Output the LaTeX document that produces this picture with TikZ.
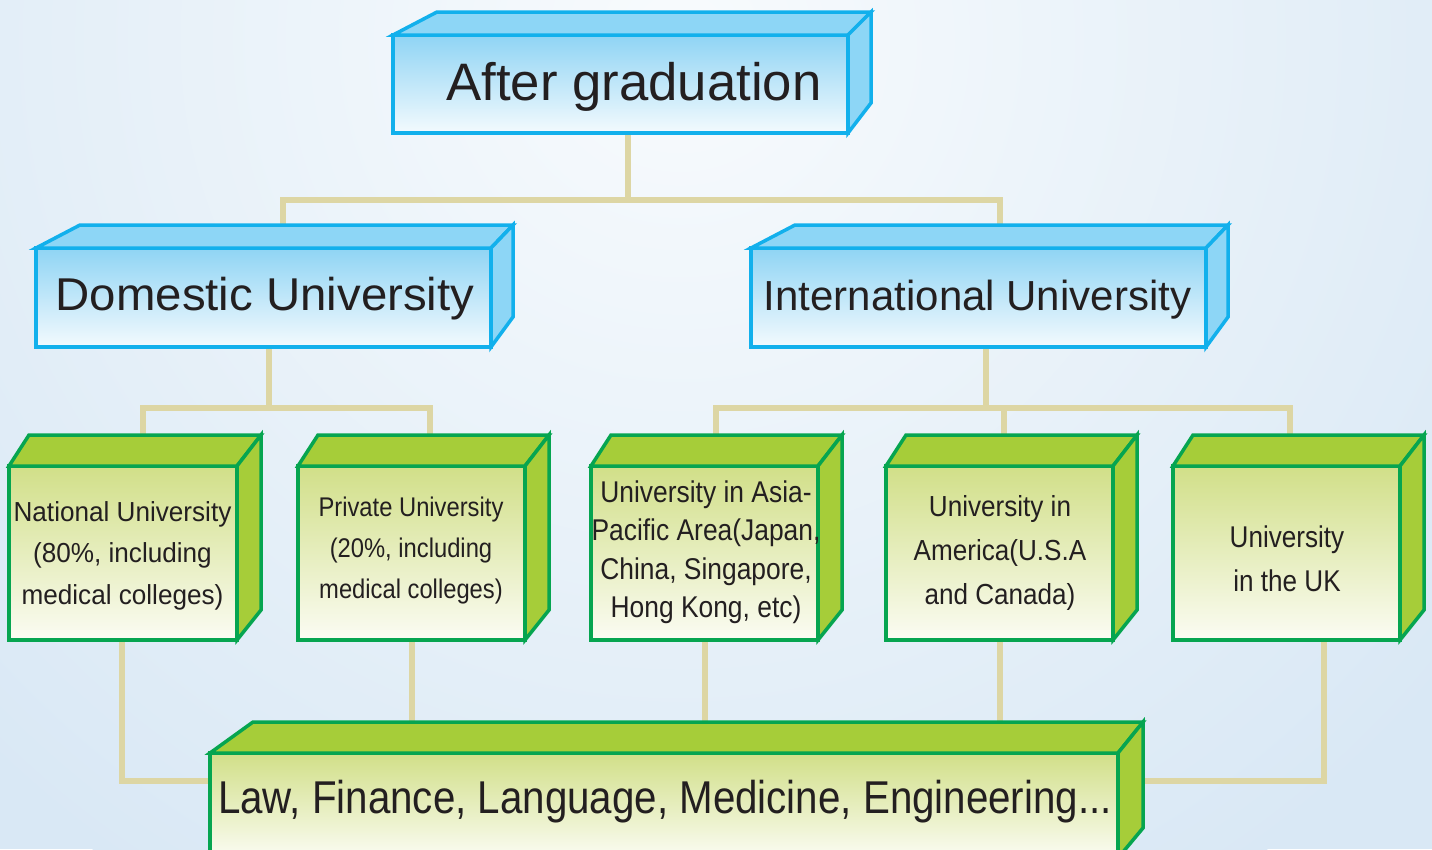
\documentclass[tikz,border=0pt]{standalone}
\usepackage{fontspec}
\setmainfont{Liberation Sans}
\usepackage{graphicx}
\definecolor{bgA}{HTML}{F8FBFD}
\definecolor{bgB}{HTML}{D9E8F5}
\definecolor{bline}{HTML}{12B0EC}
\definecolor{bface}{HTML}{8DD6F6}
\definecolor{bfrontA}{HTML}{8FD4F4}
\definecolor{bfrontB}{HTML}{F3FAFE}
\definecolor{gline}{HTML}{06A550}
\definecolor{gface}{HTML}{A6CD39}
\definecolor{gfrontA}{HTML}{D1DF88}
\definecolor{gfrontB}{HTML}{FBFCF3}
\definecolor{conncol}{HTML}{DDD6A4}
\definecolor{ink}{HTML}{231F20}
\pgfdeclarelayer{bg}
\pgfsetlayers{bg,main}
\tikzset{
 bluefront/.style={draw=bline, line width=3.5pt, top color=bfrontA, bottom color=bfrontB},
 blueface/.style={draw=bline, line width=3.5pt, fill=bface},
 greenfront/.style={draw=gline, line width=3.5pt, top color=gfrontA, bottom color=gfrontB},
 greenface/.style={draw=gline, line width=3.5pt, fill=gface},
 conn/.style={draw=conncol, line width=6pt},
 lbl/.style={inner sep=0pt, anchor=base, text=ink},
}
% name, kind, x1, y1, x2, y2, left offset, dx, dy
\newcommand\cubebox[9]{%
 \node[#2front, rectangle, inner sep=0pt, outer sep=0pt, minimum width={#5-#3}, minimum height={#6-#4}] (#1) at ({(#3+#5)/2},{(#4+#6)/2}) {};
 \path[#2face] (#1.north west) -- ++(#7,-#9) -- ({#5+#8},{#4-#9}) -- (#1.north east) -- cycle;
 \path[#2face] (#1.north east) -- ({#5+#8},{#4-#9}) -- ({#5+#8},{#6-30}) -- (#1.south east) -- cycle;
}
\newcommand\ml[4]{\scalebox{#1}[1]{\fontsize{#2}{#3}\selectfont\begin{tabular}[t]{@{}c@{}}#4\end{tabular}}}
\begin{document}
\begin{tikzpicture}[x=1pt,y=-1pt]
\useasboundingbox (0,0) rectangle (1432,849);
\cubebox{top}{blue}{393}{35}{848}{133}{44}{23}{23}
\cubebox{dom}{blue}{36}{248}{491}{347}{44}{22}{23}
\cubebox{int}{blue}{751}{248}{1206}{347}{44}{22}{23}
\cubebox{nat}{green}{9}{466}{237}{640}{20}{24}{31}
\cubebox{priv}{green}{298}{466}{525}{640}{20}{24}{31}
\cubebox{asia}{green}{591}{466}{818}{640}{20}{24}{31}
\cubebox{amer}{green}{886}{466}{1113}{640}{20}{24}{31}
\cubebox{uk}{green}{1173}{466}{1400}{640}{20}{24}{31}
\cubebox{law}{green}{210}{753}{1118}{858}{43}{25}{31}

\node[lbl] (tTop) at (634,100) {\fontsize{52.7}{60}\selectfont After graduation};
\node[lbl] (tDom) at (265,310) {\scalebox{1.03}[1]{\fontsize{46}{54}\selectfont Domestic University}};
\node[lbl] (tInt) at (977.5,310) {\fontsize{42}{50}\selectfont International University};
\node[lbl] (tNat) at (122.5,521) {\ml{0.95}{27.5}{41.5}{National University\\(80\%, including\\medical colleges)}};
\node[lbl] (tPriv) at (411,516) {\ml{0.88}{27}{41}{Private University\\(20\%, including\\medical colleges)}};
\node[lbl] (tAsia) at (706,502) {\ml{0.88}{30}{38.5}{University in Asia-\\Pacific Area(Japan,\\China, Singapore,\\Hong Kong, etc)}};
\node[lbl] (tAm) at (1000,516) {\ml{0.9}{29}{44}{University in\\America(U.S.A\\and Canada)}};
\node[lbl] (tUK) at (1287,547) {\ml{0.87}{30}{44}{University\\in the UK}};
\node[lbl] (tLaw) at (665,813) {\scalebox{0.876}[1]{\fontsize{46}{54}\selectfont Law, Finance, Language, Medicine, Engineering...}};

\begin{pgfonlayer}{bg}
\begin{scope}
\clip (0,0) rectangle (1432,849);
\fill[bgB] (0,0) rectangle (1432,849);
\shade[inner color=bgA, outer color=bgB] (680,40) circle [radius=1000];
\end{scope}
\coordinate (j0) at (628,200);
\coordinate (jL) at (283,200);
\coordinate (jR) at (1000,200);
\draw[conn] (top.south -| j0) -- (j0);
\draw[conn] (dom.north -| jL) -- (jL) -- (jR) -- (int.north -| jR);
\coordinate (d0) at (269,408);
\coordinate (dL) at (143,408);
\coordinate (dR) at (430,408);
\draw[conn] (dom.south -| d0) -- (d0);
\draw[conn] (nat.north -| dL) -- (dL) -- (dR) -- (priv.north -| dR);
\coordinate (i0) at (986,408);
\coordinate (iL) at (716,408);
\coordinate (iM) at (1004,408);
\coordinate (iR) at (1290,408);
\draw[conn] (int.south -| i0) -- (i0);
\draw[conn] (asia.north -| iL) -- (iL) -- (iR) -- (uk.north -| iR);
\draw[conn] (iM) -- (amer.north -| iM);
\coordinate (bL) at (122,781);
\coordinate (bR) at (1324,781);
\draw[conn] (nat.south -| bL) -- (bL) -- (law.west |- bL);
\draw[conn] (uk.south -| bR) -- (bR) -- (law.east |- bR);
\draw[conn] (priv.south) -- (law.north -| priv.south);
\draw[conn] (asia.south) -- (law.north -| asia.south);
\draw[conn] (amer.south) -- (law.north -| amer.south);
\end{pgfonlayer}
\end{tikzpicture}
\end{document}
